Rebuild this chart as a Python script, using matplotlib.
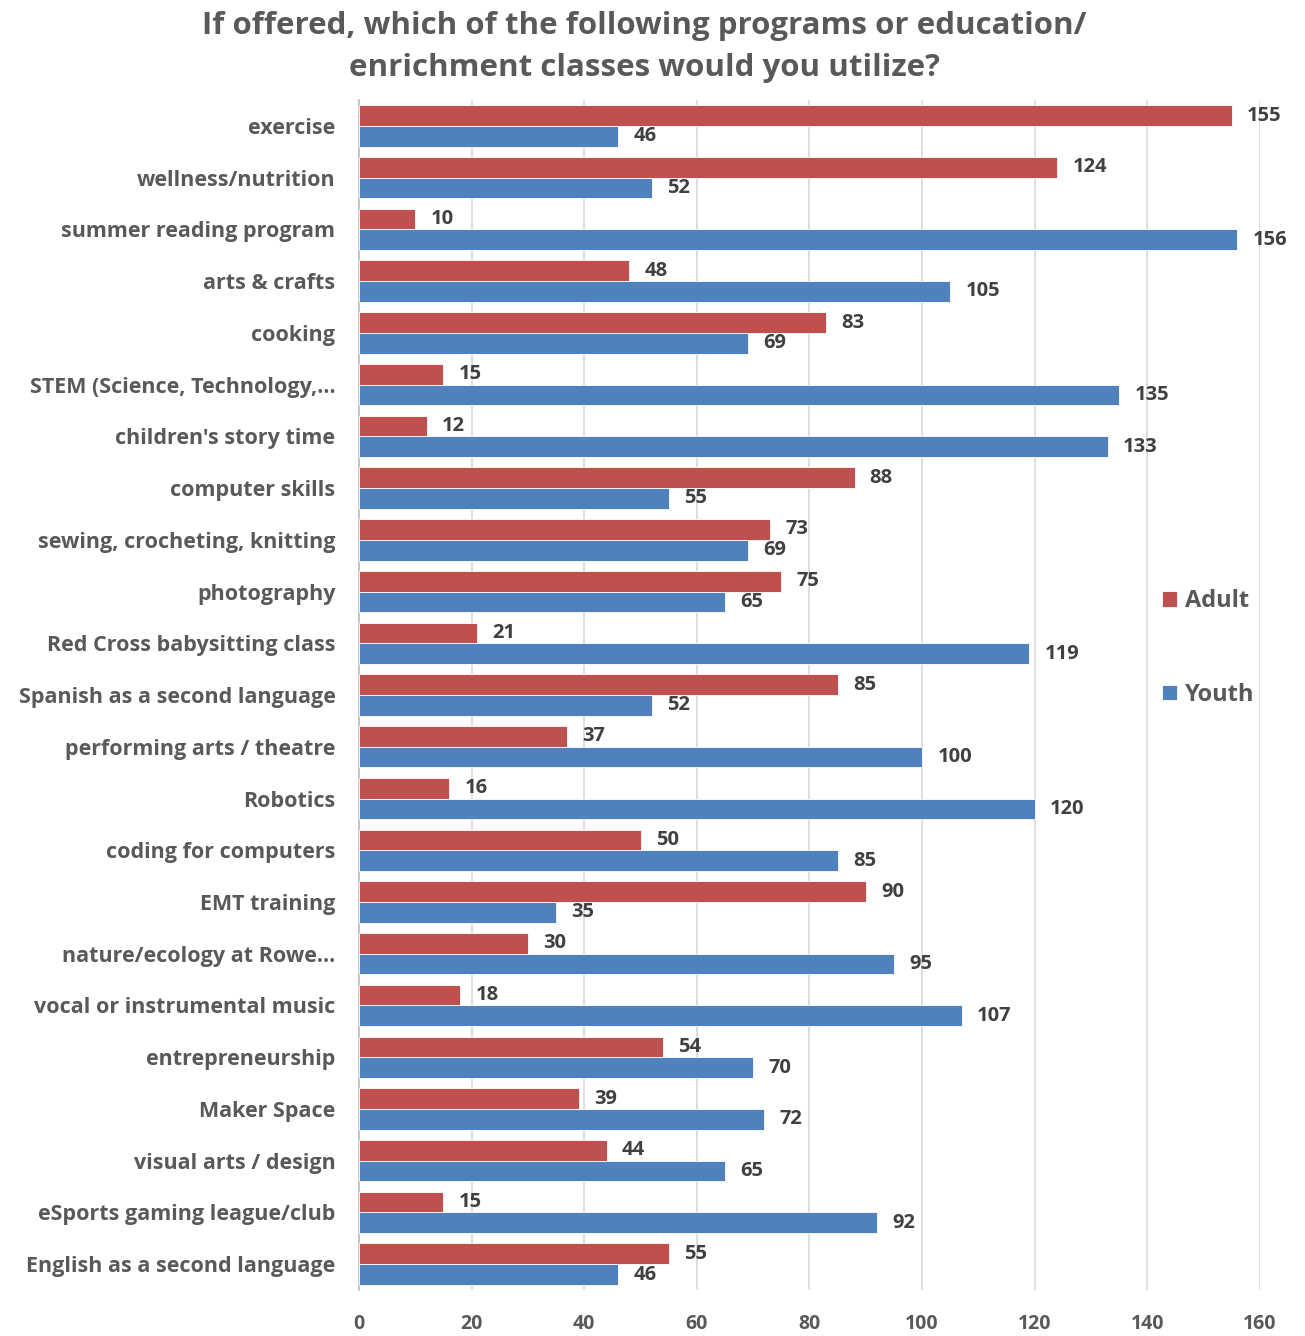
import matplotlib
matplotlib.use("Agg")
import matplotlib.pyplot as plt
import numpy as np

categories = [
    "exercise", "wellness/nutrition", "summer reading program", "arts & crafts",
    "cooking", "STEM (Science, Technology,\u2026", "children's story time",
    "computer skills", "sewing, crocheting, knitting", "photography",
    "Red Cross babysitting class", "Spanish as a second language",
    "performing arts / theatre", "Robotics", "coding for computers",
    "EMT training", "nature/ecology at Rowe\u2026", "vocal or instrumental music",
    "entrepreneurship", "Maker Space", "visual arts / design",
    "eSports gaming league/club", "English as a second language",
]
adult = [155, 124, 10, 48, 83, 15, 12, 88, 73, 75, 21, 85, 37, 16, 50, 90, 30,
         18, 54, 39, 44, 15, 55]
youth = [46, 52, 156, 105, 69, 135, 133, 55, 69, 65, 119, 52, 100, 120, 85, 35,
         95, 107, 70, 72, 65, 92, 46]
xticks = [0, 20, 40, 60, 80, 100, 120, 140, 160]

title = "If offered, which of the following programs or education/\nenrichment classes would you utilize?"

RED = "#C0504D"
BLUE = "#4F81BD"
TXT = "#595959"

plt.rcParams['font.family'] = ['Open Sans', 'DejaVu Sans']

fig = plt.figure(figsize=(13.05, 13.36), dpi=100)
ax = fig.add_axes([0.2751, 0.0344, 0.6904, 0.8907])

y = np.arange(len(categories))
h = 0.4
ax.barh(y - h / 2, adult, height=h, color=RED, edgecolor="white", linewidth=0.6, label="Adult", zorder=3)
ax.barh(y + h / 2, youth, height=h, color=BLUE, edgecolor="white", linewidth=0.6, label="Youth", zorder=3)

for i in range(len(categories)):
    ax.text(adult[i] + 2.7, y[i] - h / 2, str(adult[i]), va="center", ha="left",
            fontsize=14.5, fontweight="bold", color="#404040")
    ax.text(youth[i] + 2.7, y[i] + h / 2, str(youth[i]), va="center", ha="left",
            fontsize=14.5, fontweight="bold", color="#404040")

ax.set_ylim(len(categories) - 0.5, -0.5)
ax.set_xlim(0, 160)
ax.set_yticks(y)
ax.set_yticklabels(categories, fontsize=15.5, fontweight="bold", color=TXT)
ax.set_xticks(xticks)
ax.set_xticklabels([str(t) for t in xticks], fontsize=14, fontweight="bold", color=TXT)
ax.tick_params(axis="both", length=0)
ax.tick_params(axis="x", pad=17)
ax.tick_params(axis="y", pad=17)

ax.grid(axis="x", color="#D9D9D9", linewidth=1.2, zorder=0)
for s in ["top", "right", "bottom"]:
    ax.spines[s].set_visible(False)
ax.spines["left"].set_color("#BFBFBF")
ax.spines["left"].set_linewidth(1.2)

fig.text(0.494, 0.9915, title, ha="center", va="top", fontsize=22.5,
         fontweight="bold", color=TXT, linespacing=1.5)

leg = fig.legend(loc="center left", bbox_to_anchor=(0.874, 0.515), frameon=False,
                 fontsize=17, handlelength=0.65, handleheight=0.65, handletextpad=0.35,
                 labelspacing=2.95)
for t in leg.get_texts():
    t.set_color(TXT)
    t.set_fontweight("bold")

fig.savefig("out.png", dpi=100, facecolor="white")
